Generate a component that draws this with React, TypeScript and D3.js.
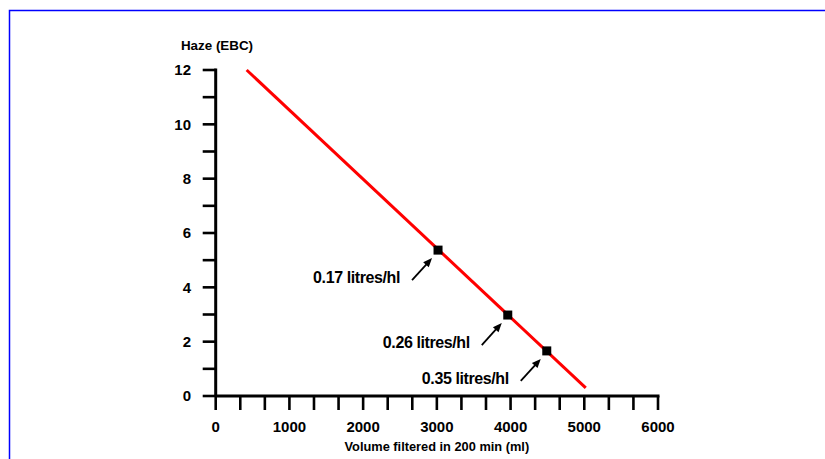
import React from 'react';
import * as d3 from 'd3';

// fitted line (volume in ml, haze in EBC)
const lineVolume = [420, 5020];
const lineHaze = [12, 0.3];

// measured points
const pointVolume = [3016, 3962, 4491];
const pointHaze = [5.37, 2.98, 1.66];
const pointLabels = ['0.17 litres/hl', '0.26 litres/hl', '0.35 litres/hl'];

const xTickLabels = [0, 1000, 2000, 3000, 4000, 5000, 6000];
const yTickLabels = [0, 2, 4, 6, 8, 10, 12];

const W = 825;
const H = 459;
const FONT = '"Liberation Sans", Arial, Helvetica, sans-serif';

const App = () => {
   const x = d3.scaleLinear().domain([0, 6000]).range([215.7, 658]);
   const y = d3.scaleLinear().domain([0, 12]).range([396, 70]);

   const xMinor = d3.range(19).map(i => (i * 6000) / 18);
   const yMinor = d3.range(13);

   const line = d3.line<number>()
      .x(d => x(lineVolume[d]))
      .y(d => y(lineHaze[d]));

   // arrow geometry relative to the marker
   const tail = { dx: -26, dy: 30 };
   const tip = { dx: -6, dy: 8 };
   const vx = tip.dx - tail.dx;
   const vy = tip.dy - tail.dy;
   const len = Math.hypot(vx, vy);
   const ux = vx / len;
   const uy = vy / len;
   const headLen = 9;
   const headHalf = 3.8;

   return (
      <svg width={W} height={H} style={{ position: 'absolute', left: 0, top: 0, background: '#fff' }}>
         {/* blue frame */}
         <rect x={9.5} y={10.5} width={W + 20} height={H + 20} fill="none" stroke="#0000ff" strokeWidth={1.5} />

         {/* y axis */}
         <line x1={x(0)} x2={x(0)} y1={y(12) - 1.5} y2={y(0)} stroke="#000" strokeWidth={3} />
         {yMinor.map(v => (
            <line key={'yt' + v} x1={x(0) - 13} x2={x(0)} y1={y(v)} y2={y(v)} stroke="#000" strokeWidth={2.6} />
         ))}
         {yTickLabels.map(v => (
            <text key={'yl' + v} x={191} y={y(v)} dy="0.36em" textAnchor="end"
               fontFamily={FONT} fontWeight="bold" fontSize={15} fill="#000">{v}</text>
         ))}
         <text x={217} y={50} textAnchor="middle" fontFamily={FONT} fontWeight="bold" fontSize={13.4} fill="#000">
            Haze (EBC)
         </text>

         {/* x axis */}
         <line x1={x(0)} x2={x(6000) + 1.5} y1={y(0)} y2={y(0)} stroke="#000" strokeWidth={3} />
         {xMinor.map((v, i) => (
            <line key={'xt' + i} x1={x(v)} x2={x(v)} y1={y(0)} y2={y(0) + 14} stroke="#000" strokeWidth={2.6} />
         ))}
         {xTickLabels.map(v => (
            <text key={'xl' + v} x={x(v)} y={432} textAnchor="middle"
               fontFamily={FONT} fontWeight="bold" fontSize={15} fill="#000">{v}</text>
         ))}
         <text x={x(3000)} y={451} textAnchor="middle" fontFamily={FONT} fontWeight="bold" fontSize={12.8} fill="#000">
            Volume filtered in 200 min (ml)
         </text>

         {/* red line */}
         <path d={line([0, 1]) || ''} fill="none" stroke="#ff0000" strokeWidth={3} />

         {/* points, arrows, labels */}
         {pointVolume.map((v, i) => {
            const cx = x(v);
            const cy = y(pointHaze[i]);
            const tx = cx + tip.dx;
            const ty = cy + tip.dy;
            const bx = tx - ux * headLen;
            const by = ty - uy * headLen;
            const head = [
               [tx, ty],
               [bx - uy * headHalf, by + ux * headHalf],
               [bx + uy * headHalf, by - ux * headHalf],
            ].map(p => p.join(',')).join(' ');
            return (
               <g key={'p' + i}>
                  <rect x={cx - 4.5} y={cy - 4.5} width={9} height={9} fill="#000" />
                  <line x1={cx + tail.dx} y1={cy + tail.dy} x2={bx + ux * 2} y2={by + uy * 2} stroke="#000" strokeWidth={1.8} />
                  <polygon points={head} fill="#000" />
                  <text x={cx - 38} y={cy + 27} dy="0.36em" textAnchor="end" letterSpacing={-0.4}
                     fontFamily={FONT} fontWeight="bold" fontSize={16} fill="#000">{pointLabels[i]}</text>
               </g>
            );
         })}
      </svg>
   );
};

export default App;
